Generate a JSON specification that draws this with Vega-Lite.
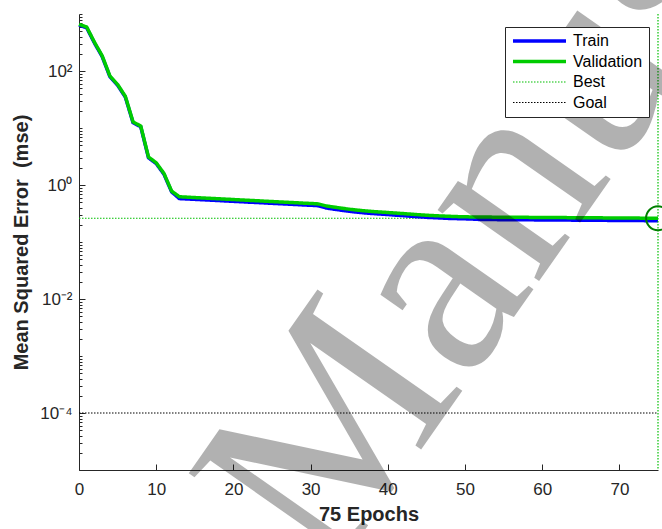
{
  "$schema": "https://vega.github.io/schema/vega-lite/v6.json",
  "width": 579,
  "height": 456,
  "autosize": {"type": "none"},
  "padding": {"left": 79, "top": 14, "right": 4, "bottom": 59},
  "background": "white",
  "config": {"view": {"stroke": null}, "font": "Liberation Sans"},
  "datasets": {
    "perf": [
      {"epoch": 0, "mse": 0.0001, "series": "Goal"}, {"epoch": 75, "mse": 0.0001, "series": "Goal"},
      {"epoch": 0, "mse": 0.261, "series": "Best"}, {"epoch": 75, "mse": 0.261, "series": "Best"},
      {"epoch": 0, "mse": 640, "series": "Train"}, {"epoch": 1, "mse": 572, "series": "Train"}, {"epoch": 2, "mse": 310, "series": "Train"}, {"epoch": 3, "mse": 179, "series": "Train"}, {"epoch": 4, "mse": 79.5, "series": "Train"}, {"epoch": 5, "mse": 56.3, "series": "Train"}, {"epoch": 6, "mse": 34.9, "series": "Train"}, {"epoch": 7, "mse": 12.4, "series": "Train"}, {"epoch": 8, "mse": 10.5, "series": "Train"}, {"epoch": 9, "mse": 3.0, "series": "Train"}, {"epoch": 10, "mse": 2.38, "series": "Train"}, {"epoch": 11, "mse": 1.55, "series": "Train"}, {"epoch": 12, "mse": 0.757, "series": "Train"},
      {"epoch": 13, "mse": 0.578, "series": "Train"}, {"epoch": 14, "mse": 0.569, "series": "Train"}, {"epoch": 15, "mse": 0.56, "series": "Train"}, {"epoch": 16, "mse": 0.551, "series": "Train"}, {"epoch": 17, "mse": 0.542, "series": "Train"}, {"epoch": 18, "mse": 0.534, "series": "Train"}, {"epoch": 19, "mse": 0.525, "series": "Train"}, {"epoch": 20, "mse": 0.517, "series": "Train"}, {"epoch": 21, "mse": 0.509, "series": "Train"}, {"epoch": 22, "mse": 0.5, "series": "Train"}, {"epoch": 23, "mse": 0.493, "series": "Train"}, {"epoch": 24, "mse": 0.485, "series": "Train"}, {"epoch": 25, "mse": 0.477, "series": "Train"}, {"epoch": 26, "mse": 0.47, "series": "Train"}, {"epoch": 27, "mse": 0.462, "series": "Train"}, {"epoch": 28, "mse": 0.455, "series": "Train"}, {"epoch": 29, "mse": 0.447, "series": "Train"}, {"epoch": 30, "mse": 0.441, "series": "Train"}, {"epoch": 31, "mse": 0.433, "series": "Train"},
      {"epoch": 32, "mse": 0.396, "series": "Train"}, {"epoch": 33, "mse": 0.377, "series": "Train"}, {"epoch": 34, "mse": 0.361, "series": "Train"}, {"epoch": 35, "mse": 0.346, "series": "Train"}, {"epoch": 36, "mse": 0.334, "series": "Train"}, {"epoch": 37, "mse": 0.324, "series": "Train"}, {"epoch": 38, "mse": 0.316, "series": "Train"}, {"epoch": 39, "mse": 0.309, "series": "Train"}, {"epoch": 40, "mse": 0.303, "series": "Train"}, {"epoch": 41, "mse": 0.296, "series": "Train"}, {"epoch": 42, "mse": 0.29, "series": "Train"}, {"epoch": 43, "mse": 0.283, "series": "Train"}, {"epoch": 44, "mse": 0.277, "series": "Train"}, {"epoch": 45, "mse": 0.271, "series": "Train"}, {"epoch": 46, "mse": 0.267, "series": "Train"}, {"epoch": 47, "mse": 0.263, "series": "Train"}, {"epoch": 48, "mse": 0.259, "series": "Train"}, {"epoch": 49, "mse": 0.257, "series": "Train"}, {"epoch": 50, "mse": 0.255, "series": "Train"}, {"epoch": 51, "mse": 0.252, "series": "Train"},
      {"epoch": 52, "mse": 0.248, "series": "Train"}, {"epoch": 53, "mse": 0.2474, "series": "Train"}, {"epoch": 54, "mse": 0.247, "series": "Train"}, {"epoch": 55, "mse": 0.2464, "series": "Train"}, {"epoch": 56, "mse": 0.2459, "series": "Train"}, {"epoch": 57, "mse": 0.2454, "series": "Train"}, {"epoch": 58, "mse": 0.2449, "series": "Train"}, {"epoch": 59, "mse": 0.2444, "series": "Train"}, {"epoch": 60, "mse": 0.2439, "series": "Train"}, {"epoch": 61, "mse": 0.2434, "series": "Train"}, {"epoch": 62, "mse": 0.2428, "series": "Train"}, {"epoch": 63, "mse": 0.2424, "series": "Train"}, {"epoch": 64, "mse": 0.2418, "series": "Train"}, {"epoch": 65, "mse": 0.2413, "series": "Train"}, {"epoch": 66, "mse": 0.2408, "series": "Train"}, {"epoch": 67, "mse": 0.2403, "series": "Train"}, {"epoch": 68, "mse": 0.2397, "series": "Train"}, {"epoch": 69, "mse": 0.2393, "series": "Train"}, {"epoch": 70, "mse": 0.2387, "series": "Train"}, {"epoch": 71, "mse": 0.2382, "series": "Train"}, {"epoch": 72, "mse": 0.2377, "series": "Train"}, {"epoch": 73, "mse": 0.2372, "series": "Train"}, {"epoch": 74, "mse": 0.2367, "series": "Train"}, {"epoch": 75, "mse": 0.2362, "series": "Train"},
      {"epoch": 0, "mse": 660, "series": "Validation"}, {"epoch": 1, "mse": 590, "series": "Validation"}, {"epoch": 2, "mse": 320, "series": "Validation"}, {"epoch": 3, "mse": 185, "series": "Validation"}, {"epoch": 4, "mse": 82, "series": "Validation"}, {"epoch": 5, "mse": 58, "series": "Validation"}, {"epoch": 6, "mse": 36, "series": "Validation"}, {"epoch": 7, "mse": 12.8, "series": "Validation"}, {"epoch": 8, "mse": 10.8, "series": "Validation"}, {"epoch": 9, "mse": 3.1, "series": "Validation"}, {"epoch": 10, "mse": 2.45, "series": "Validation"}, {"epoch": 11, "mse": 1.6, "series": "Validation"}, {"epoch": 12, "mse": 0.78, "series": "Validation"},
      {"epoch": 13, "mse": 0.622, "series": "Validation"}, {"epoch": 14, "mse": 0.612, "series": "Validation"}, {"epoch": 15, "mse": 0.602, "series": "Validation"}, {"epoch": 16, "mse": 0.592, "series": "Validation"}, {"epoch": 17, "mse": 0.583, "series": "Validation"}, {"epoch": 18, "mse": 0.574, "series": "Validation"}, {"epoch": 19, "mse": 0.565, "series": "Validation"}, {"epoch": 20, "mse": 0.556, "series": "Validation"}, {"epoch": 21, "mse": 0.547, "series": "Validation"}, {"epoch": 22, "mse": 0.538, "series": "Validation"}, {"epoch": 23, "mse": 0.53, "series": "Validation"}, {"epoch": 24, "mse": 0.521, "series": "Validation"}, {"epoch": 25, "mse": 0.513, "series": "Validation"}, {"epoch": 26, "mse": 0.505, "series": "Validation"}, {"epoch": 27, "mse": 0.497, "series": "Validation"}, {"epoch": 28, "mse": 0.489, "series": "Validation"}, {"epoch": 29, "mse": 0.481, "series": "Validation"}, {"epoch": 30, "mse": 0.474, "series": "Validation"}, {"epoch": 31, "mse": 0.466, "series": "Validation"},
      {"epoch": 32, "mse": 0.43, "series": "Validation"}, {"epoch": 33, "mse": 0.41, "series": "Validation"}, {"epoch": 34, "mse": 0.392, "series": "Validation"}, {"epoch": 35, "mse": 0.376, "series": "Validation"}, {"epoch": 36, "mse": 0.363, "series": "Validation"}, {"epoch": 37, "mse": 0.352, "series": "Validation"}, {"epoch": 38, "mse": 0.343, "series": "Validation"}, {"epoch": 39, "mse": 0.336, "series": "Validation"}, {"epoch": 40, "mse": 0.329, "series": "Validation"}, {"epoch": 41, "mse": 0.322, "series": "Validation"}, {"epoch": 42, "mse": 0.315, "series": "Validation"}, {"epoch": 43, "mse": 0.308, "series": "Validation"}, {"epoch": 44, "mse": 0.301, "series": "Validation"}, {"epoch": 45, "mse": 0.295, "series": "Validation"}, {"epoch": 46, "mse": 0.29, "series": "Validation"}, {"epoch": 47, "mse": 0.286, "series": "Validation"}, {"epoch": 48, "mse": 0.282, "series": "Validation"}, {"epoch": 49, "mse": 0.279, "series": "Validation"}, {"epoch": 50, "mse": 0.277, "series": "Validation"}, {"epoch": 51, "mse": 0.275, "series": "Validation"},
      {"epoch": 52, "mse": 0.274, "series": "Validation"}, {"epoch": 53, "mse": 0.2734, "series": "Validation"}, {"epoch": 54, "mse": 0.2729, "series": "Validation"}, {"epoch": 55, "mse": 0.2723, "series": "Validation"}, {"epoch": 56, "mse": 0.2717, "series": "Validation"}, {"epoch": 57, "mse": 0.2712, "series": "Validation"}, {"epoch": 58, "mse": 0.2706, "series": "Validation"}, {"epoch": 59, "mse": 0.27, "series": "Validation"}, {"epoch": 60, "mse": 0.2695, "series": "Validation"}, {"epoch": 61, "mse": 0.2689, "series": "Validation"}, {"epoch": 62, "mse": 0.2683, "series": "Validation"}, {"epoch": 63, "mse": 0.2678, "series": "Validation"}, {"epoch": 64, "mse": 0.2672, "series": "Validation"}, {"epoch": 65, "mse": 0.2666, "series": "Validation"}, {"epoch": 66, "mse": 0.2661, "series": "Validation"}, {"epoch": 67, "mse": 0.2655, "series": "Validation"}, {"epoch": 68, "mse": 0.2649, "series": "Validation"}, {"epoch": 69, "mse": 0.2644, "series": "Validation"}, {"epoch": 70, "mse": 0.2638, "series": "Validation"}, {"epoch": 71, "mse": 0.2632, "series": "Validation"}, {"epoch": 72, "mse": 0.2627, "series": "Validation"}, {"epoch": 73, "mse": 0.2621, "series": "Validation"}, {"epoch": 74, "mse": 0.2615, "series": "Validation"}, {"epoch": 75, "mse": 0.261, "series": "Validation"}
    ],
    "best": [{"epoch": 75, "mse": 0.261}],
    "wm": [{"epoch": 32.4, "mse": 1.13e-7, "text": "Manuscript"}]
  },
  "layer": [
    {
      "data": {"name": "perf"},
      "mark": {"type": "line"},
      "encoding": {
        "x": {
          "field": "epoch", "type": "quantitative",
          "scale": {"domain": [0, 75], "nice": false, "zero": false},
          "axis": {
            "values": [0, 10, 20, 30, 40, 50, 60, 70],
            "format": "d",
            "title": "75 Epochs",
            "grid": false,
            "tickSize": -6,
            "labelPadding": 17,
            "labelFontSize": 17,
            "labelColor": "#262626",
            "tickColor": "#262626",
            "domainColor": "#262626",
            "labelFlush": false,
            "titleFontSize": 20,
            "titleFontWeight": "bold",
            "titleColor": "#262626",
            "titlePadding": 7
          }
        },
        "y": {
          "field": "mse", "type": "quantitative",
          "scale": {"type": "log", "domain": [0.00001, 1000], "nice": false},
          "axis": {
            "values": [0.00001, 0.00002, 0.00003, 0.00004, 0.00005, 0.00006, 0.00007, 0.00008, 0.00009,
                       0.0001, 0.0002, 0.0003, 0.0004, 0.0005, 0.0006, 0.0007, 0.0008, 0.0009,
                       0.001, 0.002, 0.003, 0.004, 0.005, 0.006, 0.007, 0.008, 0.009,
                       0.01, 0.02, 0.03, 0.04, 0.05, 0.06, 0.07, 0.08, 0.09,
                       0.1, 0.2, 0.3, 0.4, 0.5, 0.6, 0.7, 0.8, 0.9,
                       1, 2, 3, 4, 5, 6, 7, 8, 9,
                       10, 20, 30, 40, 50, 60, 70, 80, 90,
                       100, 200, 300, 400, 500, 600, 700, 800, 900, 1000],
            "labelExpr": "datum.value == 100 ? '10²' : datum.value == 1 ? '10⁰' : datum.value == 0.01 ? '10⁻²' : datum.value == 0.0001 ? '10⁻⁴' : ''",
            "labelOverlap": false,
            "labelFlush": false,
            "grid": false,
            "tickSize": {"condition": {"test": "datum.value == 100 || datum.value == 1 || datum.value == 0.01 || datum.value == 0.0001", "value": -6}, "value": -3},
            "labelPadding": 13,
            "labelFontSize": 17,
            "labelColor": "#262626",
            "tickColor": "#262626",
            "domainColor": "#262626",
            "title": "Mean Squared Error\u00a0 (mse)",
            "titleFontSize": 20,
            "titleFontWeight": "bold",
            "titleColor": "#262626",
            "titlePadding": 8
          }
        },
        "color": {
          "field": "series", "type": "nominal",
          "scale": {"domain": ["Train", "Validation", "Best", "Goal"], "range": ["#0000ff", "#00cc00", "#00c000", "#000000"]},
          "legend": {
            "title": null, "orient": "none", "legendX": 426, "legendY": 13, "zindex": -1,
            "symbolType": "stroke", "symbolSize": 2809, "clipHeight": 16, "rowPadding": 4.5,
            "padding": 6, "strokeColor": "#262626", "fillColor": "white",
            "labelFontSize": 16, "labelColor": "#000000", "labelOffset": 5
          }
        },
        "strokeDash": {
          "field": "series", "type": "nominal",
          "scale": {"domain": ["Train", "Validation", "Best", "Goal"], "range": [[1, 0], [1, 0], [1.5, 1.5], [1.5, 1.5]]},
          "legend": {
            "title": null, "orient": "none", "legendX": 426, "legendY": 13, "zindex": -1,
            "symbolType": "stroke", "symbolSize": 2809, "clipHeight": 16, "rowPadding": 4.5,
            "padding": 6, "strokeColor": "#262626", "fillColor": "white",
            "labelFontSize": 16, "labelColor": "#000000", "labelOffset": 5
          }
        },
        "strokeWidth": {
          "field": "series", "type": "nominal",
          "scale": {"type": "ordinal", "domain": ["Train", "Validation", "Best", "Goal"], "range": [3.5, 3.5, 1.2, 1.2]},
          "legend": {
            "title": null, "orient": "none", "legendX": 426, "legendY": 13, "zindex": -1,
            "symbolType": "stroke", "symbolSize": 2809, "clipHeight": 16, "rowPadding": 4.5,
            "padding": 6, "strokeColor": "#262626", "fillColor": "white",
            "labelFontSize": 16, "labelColor": "#000000", "labelOffset": 5
          }
        }
      }
    },
    {
      "data": {"name": "best"},
      "mark": {"type": "rule", "color": "#00c000", "strokeDash": [1.5, 1.5], "strokeWidth": 1.2},
      "encoding": {"x": {"field": "epoch", "type": "quantitative"}}
    },
    {
      "data": {"name": "best"},
      "mark": {"type": "point", "filled": false, "size": 570, "strokeWidth": 2, "color": "#008000", "opacity": 1},
      "encoding": {
        "x": {"field": "epoch", "type": "quantitative"},
        "y": {"field": "mse", "type": "quantitative"}
      }
    },
    {
      "data": {"name": "wm"},
      "mark": {"type": "text", "font": "Liberation Serif", "fontSize": 270, "angle": 305, "align": "left", "baseline": "alphabetic", "fill": "#000000", "opacity": 0.3},
      "encoding": {
        "x": {"field": "epoch", "type": "quantitative"},
        "y": {"field": "mse", "type": "quantitative"},
        "text": {"field": "text"}
      }
    }
  ]
}
